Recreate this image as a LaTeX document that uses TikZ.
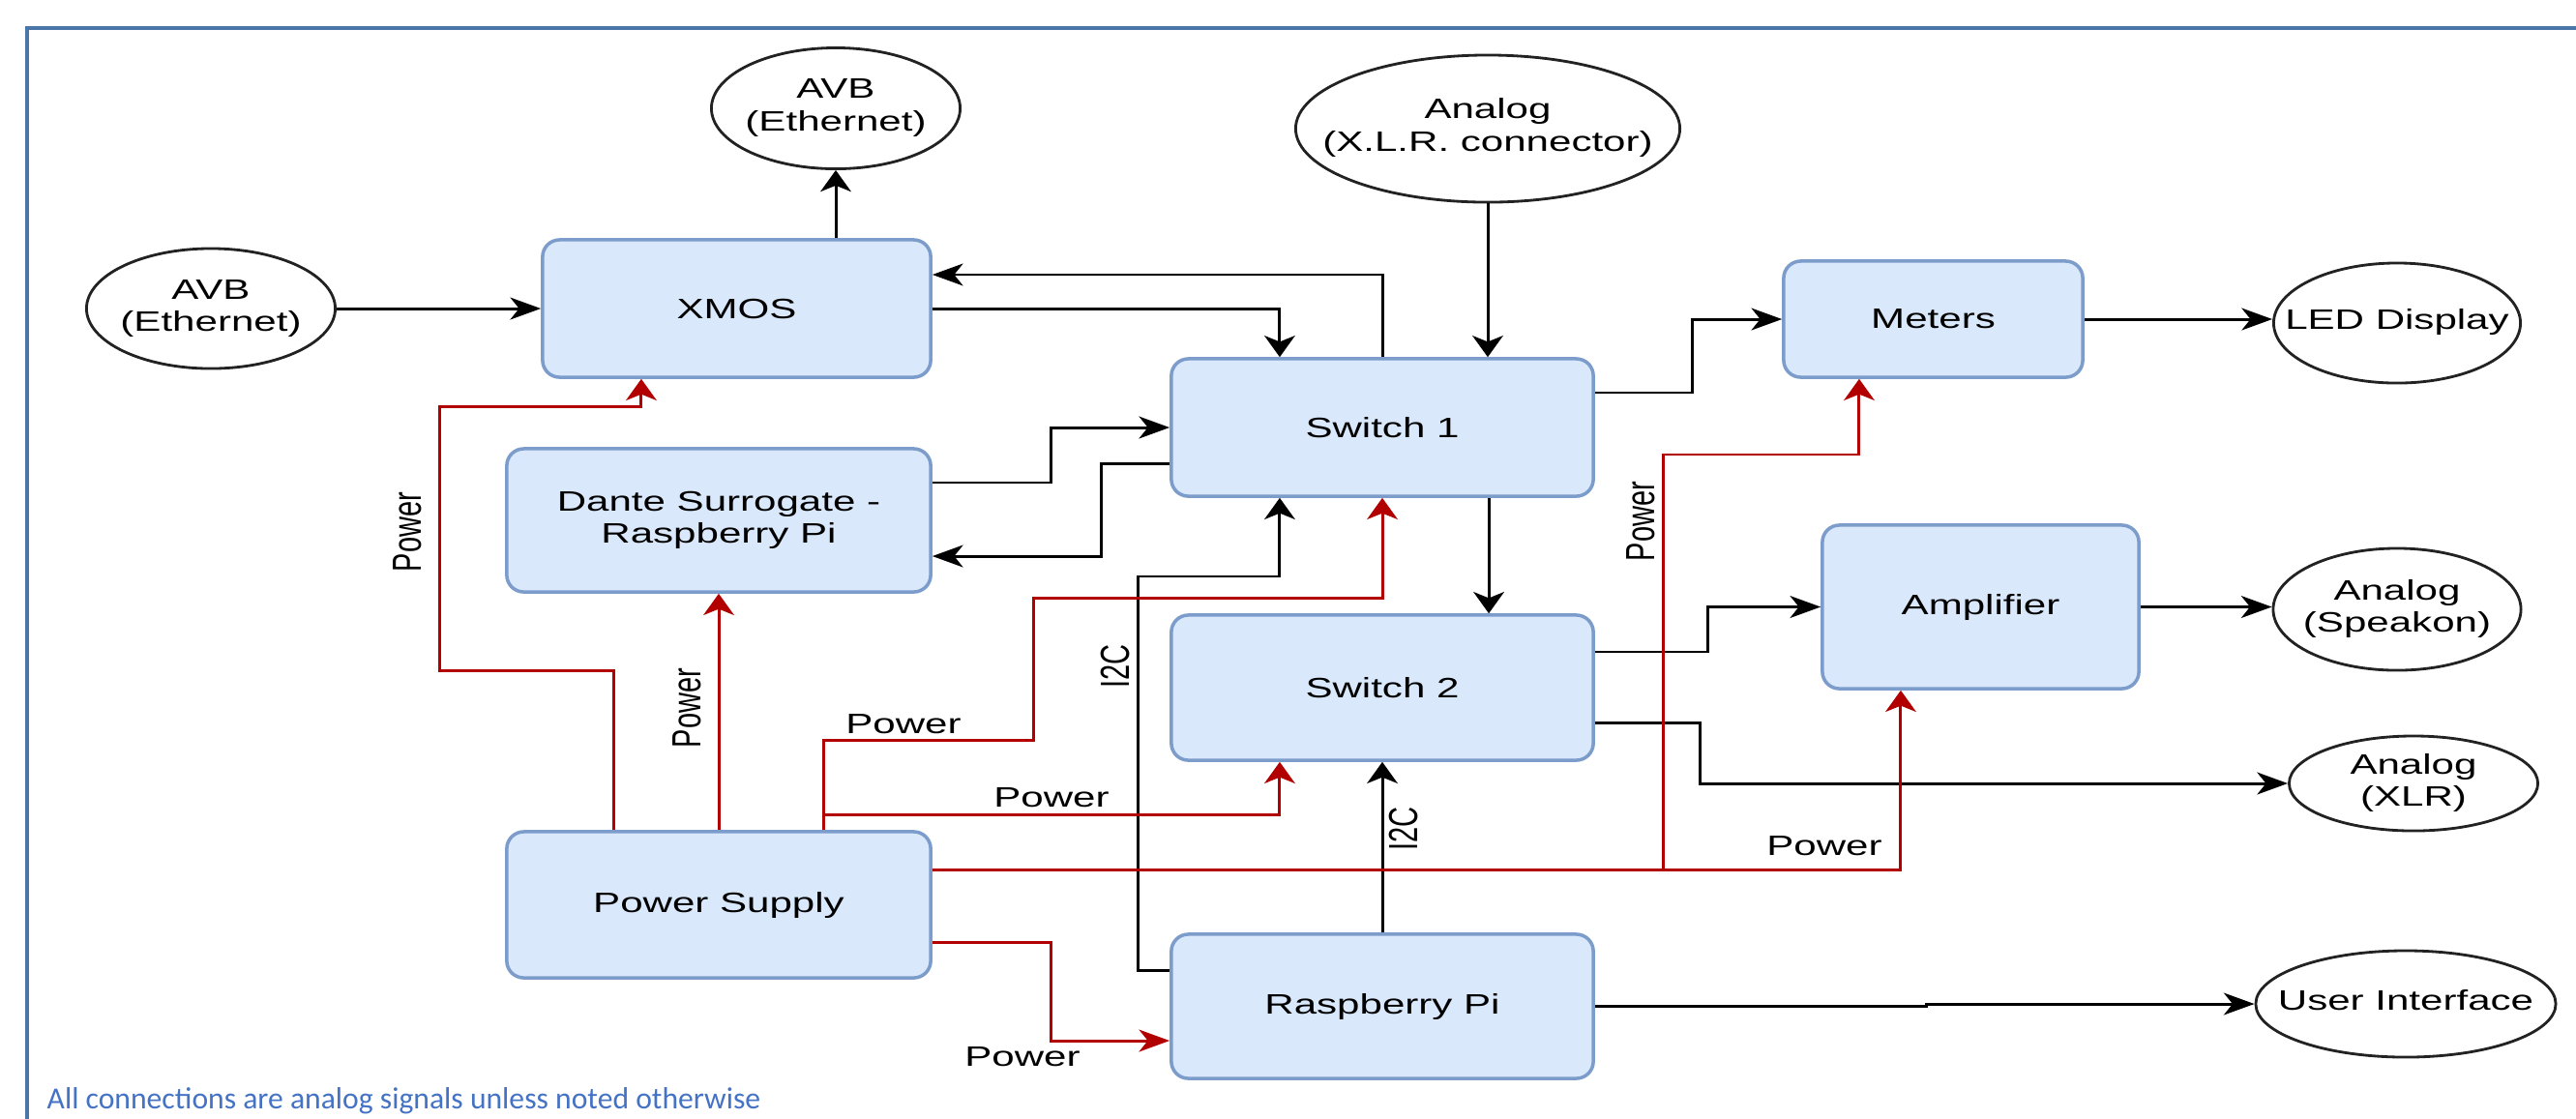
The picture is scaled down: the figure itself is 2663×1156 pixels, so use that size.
\documentclass[tikz,border=0pt]{standalone}
\usepackage{fontspec}
\usepackage{graphicx}
\setmainfont{Liberation Sans}[FakeStretch=1.45]
\newfontfamily\plainfont{Liberation Sans}
\newfontfamily\notefont{Carlito}
\usetikzlibrary{shapes.geometric,arrows.meta,calc}
\definecolor{boxfill}{HTML}{DAE8FC}
\definecolor{boxline}{HTML}{7C9CCB}
\definecolor{pwr}{HTML}{B20000}
\definecolor{framec}{HTML}{4A76AA}
\definecolor{notec}{HTML}{4472C4}
\definecolor{ovalline}{HTML}{222222}
\newcommand{\ztext}[1]{\makebox[0pt]{\begin{tabular}{@{}c@{}}#1\end{tabular}}}
\newcommand{\vlab}[1]{\scalebox{1}[1.45]{\plainfont #1}}
\begin{document}
\begin{tikzpicture}[x=0.01cm,y=-0.01cm,
  font=\fontsize{8.25pt}{9.5pt}\selectfont,
  blk/.style={draw=boxline, fill=boxfill, line width=1pt, rounded corners=5pt, inner sep=0pt, align=center},
  oval/.style={draw=ovalline, ellipse, line width=0.8pt, inner sep=0pt},
  conn/.style={draw=black, line width=0.85pt},
  pline/.style={draw=pwr, line width=0.85pt},
  ah/.style={-{Stealth[length=9pt,width=6.5pt,inset=2.6pt]}},
  av/.style={-{Stealth[length=6.3pt,width=9pt,inset=1.8pt]}},
  lab/.style={inner sep=0pt},
  vl/.style={inner sep=0pt, rotate=90},
]
\useasboundingbox (0,0) rectangle (2663,1156);

% frame
\draw[framec, line width=0.9pt] (28,1170) -- (28,29) -- (2680,29);

% ovals
\node[oval, minimum width=2.57cm, minimum height=1.25cm] (avbT) at (864,112) {\ztext{AVB\\(Ethernet)}};
\node[oval, minimum width=2.57cm, minimum height=1.24cm] (avbL) at (218,319) {\ztext{AVB\\(Ethernet)}};
\node[oval, minimum width=3.97cm, minimum height=1.52cm] (anx) at (1538,133) {\ztext{Analog\\(X.L.R. connector)}};
\node[oval, minimum width=2.55cm, minimum height=1.24cm] (led) at (2478,334) {\ztext{LED Display}};
\node[oval, minimum width=2.56cm, minimum height=1.26cm] (spk) at (2478,630) {\ztext{Analog\\(Speakon)}};
\node[oval, minimum width=2.57cm, minimum height=0.98cm] (xlr) at (2495,810) {\ztext{Analog\\(XLR)}};
\node[oval, minimum width=3.10cm, minimum height=1.10cm] (ui) at (2487,1038) {\ztext{User Interface}};

% blocks
\node[blk, minimum width=4.01cm, minimum height=1.42cm] (xmos) at (761.5,319) {XMOS};
\node[blk, minimum width=4.38cm, minimum height=1.48cm] (dante) at (743,538) {Dante Surrogate -\\Raspberry Pi};
\node[blk, minimum width=4.38cm, minimum height=1.51cm] (ps) at (743,935.5) {Power Supply};
\node[blk, minimum width=4.36cm, minimum height=1.42cm] (sw1) at (1429,442) {Switch 1};
\node[blk, minimum width=4.36cm, minimum height=1.50cm] (sw2) at (1429,711) {Switch 2};
\node[blk, minimum width=4.36cm, minimum height=1.49cm] (rpi) at (1429,1040.5) {Raspberry Pi};
\node[blk, minimum width=3.09cm, minimum height=1.20cm] (met) at (1998.5,330) {Meters};
\node[blk, minimum width=3.27cm, minimum height=1.69cm] (amp) at (2047.5,627.5) {Amplifier};

% signal connectors
\draw[conn,ah] (avbL.east) -- (xmos.west);
\draw[conn,av] (xmos.north -| avbT.south) -- (avbT.south);
\draw[conn,av] (xmos.east) -| ([xshift=-1.06cm]sw1.north);
\draw[conn,ah] (sw1.north) |- ([yshift=0.35cm]xmos.east);
\draw[conn,av] (anx.south) -- (anx.south |- sw1.north);
\draw[conn,ah] ([yshift=0.36cm]sw1.east) -- ++(101,0) |- (met.west);
\draw[conn,ah] (met.east) -- (met.east -| led.west);
\draw[conn,ah] ([yshift=0.39cm]dante.east) -- ++(123,0) |- (sw1.west);
\draw[conn,ah] ([yshift=-0.37cm]sw1.west) -- ++(-71,0) |- ([yshift=-0.37cm]dante.east);
\draw[conn,av] ([xshift=1.10cm]sw1.south) -- ([xshift=1.10cm]sw2.north);
\draw[conn,av] ([yshift=0.375cm]rpi.west) -- ++(-33,0) -- ++(0,-407) -| ([xshift=-1.06cm]sw1.south);
\draw[conn,av] (rpi.north) -- (sw2.south);
\draw[conn,ah] ([yshift=0.37cm]sw2.east) -- ++(117,0) |- (amp.west);
\draw[conn,ah] ([yshift=-0.36cm]sw2.east) -- ++(109,0) |- (xlr.west);
\draw[conn,ah] (amp.east) -- (amp.east -| spk.west);
\draw[conn,ah] (rpi.east) -- ++(343,0) |- (ui.west);

% power connectors
\draw[pline,av] ([xshift=-1.08cm]ps.north) -- ++(0,-165) -- ++(-180,0) -- ++(0,-273) -| ([xshift=-0.985cm]xmos.south);
\draw[pline,av] (ps.north) -- (dante.south);
\draw[pline,av] ([xshift=1.08cm]ps.north) -- ++(0,-93) -- ++(217,0) -- ++(0,-147) -| (sw1.south);
\draw[pline,av] ([xshift=1.08cm]ps.north) -- ++(0,-16) -| ([xshift=-1.06cm]sw2.south);
\draw[pline,av] ([yshift=0.365cm]ps.east) -- ++(756,0) -- ++(0,-429) -| ([xshift=-0.765cm]met.south);
\draw[pline,av] ([yshift=0.365cm]ps.east) -| ([xshift=-0.825cm]amp.south);
\draw[pline,ah] ([yshift=-0.385cm]ps.east) -- ++(123,0) |- ([yshift=-0.355cm]rpi.west);

% labels
\node[vl] (lp1) at (421,550) {\vlab{Power}};
\node[vl] (lp2) at (710,732) {\vlab{Power}};
\node[lab] (lp3) at (934,749) {Power};
\node[lab] (lp4) at (1087,825) {Power};
\node[vl] (lp5) at (1696,539) {\vlab{Power}};
\node[lab] (lp6) at (1886,875) {Power};
\node[lab] (lp7) at (1057,1093) {Power};
\node[vl] (li1) at (1153,689) {\vlab{I2C}};
\node[vl] (li2) at (1451,857) {\vlab{I2C}};

% note
\node[anchor=base west, inner sep=0pt, text=notec, font=\notefont\fontsize{9pt}{10pt}\selectfont] (note) at (48,1146) {All connections are analog signals unless noted otherwise};
\end{tikzpicture}
\end{document}
